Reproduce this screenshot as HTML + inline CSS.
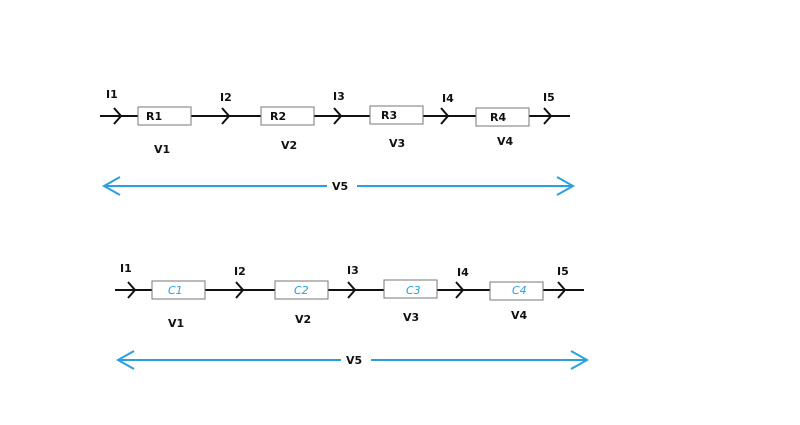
<!DOCTYPE html>
<html><head><style>body{margin:0;background:#fff}svg{display:block}text{font-family:"Comic Sans MS","DejaVu Sans",sans-serif;font-size:11px;font-weight:bold;fill:#111}.c{fill:#2aa0e0;font-weight:normal;font-style:italic}</style></head><body>
<svg width="800" height="425" viewBox="0 0 800 425">
<g stroke="#111" stroke-width="2" fill="none">
<line x1="100" y1="116" x2="570" y2="116"/>
<path d="M114 108L121 116L114 124M222 108L229 116L222 124M334 108L341 116L334 124M441 108L448 116L441 124M544 108L551 116L544 124"/>
<line x1="115" y1="290" x2="584" y2="290"/>
<path d="M128 282L135 290L128 298M236 282L243 290L236 298M348 282L355 290L348 298M456 282L463 290L456 298M558 282L565 290L558 298"/>
</g>
<g fill="#fff" stroke="#777" stroke-width="1">
<rect x="138" y="107" width="53" height="18"/><rect x="261" y="107" width="53" height="18"/><rect x="370" y="106" width="53" height="18"/><rect x="476" y="108" width="53" height="18"/>
<rect x="152" y="281" width="53" height="18"/><rect x="275" y="281" width="53" height="18"/><rect x="384" y="280" width="53" height="18"/><rect x="490" y="282" width="53" height="18"/>
</g>
<g stroke="#2aa0e0" stroke-width="2" fill="none">
<path d="M120 177L104 186L120 195M104 186H327M357 186H572M557 177L573 186L557 195"/>
<path d="M134 351L118 360L134 369M118 360H341M371 360H586M571 351L587 360L571 369"/>
</g>
<text x="106" y="98">I1</text><text x="220" y="101">I2</text><text x="333" y="100">I3</text><text x="442" y="102">I4</text><text x="543" y="101">I5</text>
<text x="146" y="120">R1</text><text x="270" y="120">R2</text><text x="381" y="119">R3</text><text x="490" y="121">R4</text>
<text x="154" y="153">V1</text><text x="281" y="149">V2</text><text x="389" y="147">V3</text><text x="497" y="145">V4</text>
<text x="332" y="190">V5</text>
<text x="120" y="272">I1</text><text x="234" y="275">I2</text><text x="347" y="274">I3</text><text x="457" y="276">I4</text><text x="557" y="275">I5</text>
<text class="c" x="168" y="294">C1</text><text class="c" x="294" y="294">C2</text><text class="c" x="406" y="294">C3</text><text class="c" x="512" y="294">C4</text>
<text x="168" y="327">V1</text><text x="295" y="323">V2</text><text x="403" y="321">V3</text><text x="511" y="319">V4</text>
<text x="346" y="364">V5</text>
</svg>
</body></html>
